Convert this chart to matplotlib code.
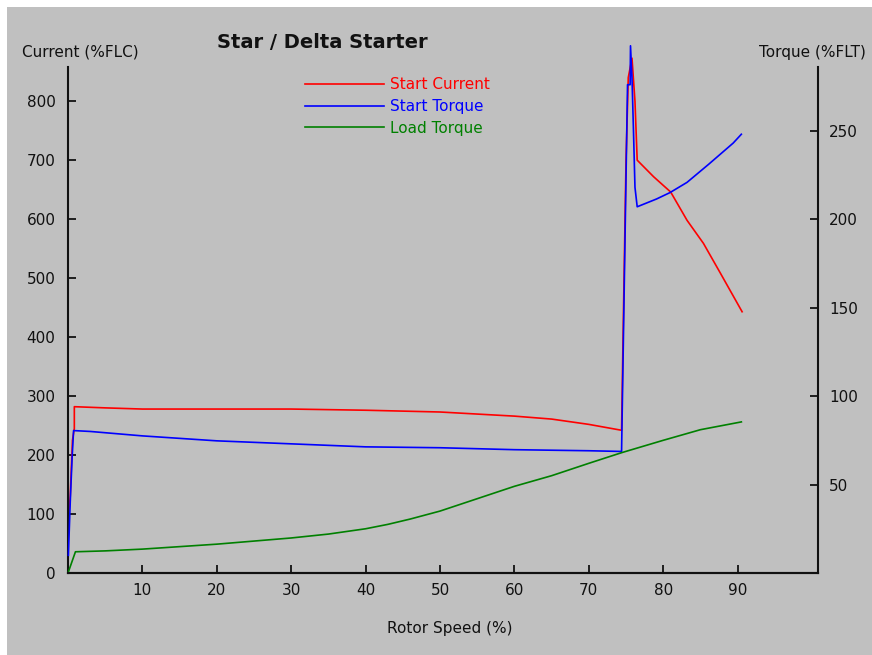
import matplotlib
matplotlib.use("Agg")
import matplotlib.pyplot as plt
from matplotlib.patches import Rectangle

# rotor speed (%) and curves
speed_current = [0.0, 0.3, 0.6, 0.85, 0.85, 5, 10, 20, 30, 40, 50, 60, 65, 70, 74.4,
                 74.6, 75.0, 75.3, 75.8, 76.2, 76.5, 78.7, 81.0, 83.2, 85.4, 87.7, 90.6]
start_current = [85, 130, 225, 245, 282, 280, 278, 278, 278, 276, 273, 266, 261, 252, 242,
                 400, 700, 840, 873, 800, 700, 672, 646, 598, 559, 508, 443]

speed_torque = [0.05, 0.3, 0.55, 0.75, 3, 10, 20, 30, 40, 50, 60, 70, 74.4,
                75.2, 75.55, 75.6, 75.8, 76.0, 76.2, 76.5, 79.1, 80.9, 83.2, 86.1, 89.4, 90.5]
start_torque = [10, 40, 65, 80.5, 80, 77.5, 74.7, 73, 71.3, 70.8, 69.7, 69.1, 68.7,
                276, 276, 298, 280, 250, 218, 207, 211.4, 215, 220.8, 231, 243, 248]

speed_load = [0, 0.5, 1.0, 5, 10, 20, 30, 35, 40, 43, 46, 50, 55, 60, 65, 70, 74.4,
              80, 85, 90.5]
load_torque = [0, 6, 12, 12.5, 13.5, 16.3, 19.8, 22, 25, 27.5, 30.5, 35, 42, 49, 55,
               62, 68, 75, 81, 85.4]

x_ticks = [10, 20, 30, 40, 50, 60, 70, 80, 90]
current_ticks = [0, 100, 200, 300, 400, 500, 600, 700, 800]
torque_ticks = [50, 100, 150, 200, 250]

W, H = 872, 655
fig = plt.figure(figsize=(W / 100, H / 100), dpi=100, facecolor="white")
fig.patches.append(Rectangle((7 / W, 0), 1, 1 - 7 / H, transform=fig.transFigure,
                             facecolor="#c0c0c0", edgecolor="none", zorder=-10))

ax = fig.add_axes([68 / W, 1 - 573 / H, (818 - 68) / W, (573 - 67) / H])
ax.set_facecolor("none")
ax2 = ax.twinx()
ax2.set_facecolor("none")

l1, = ax.plot(speed_current, start_current, color="#ff0000", lw=1.2, label="Start Current")
l2, = ax2.plot(speed_torque, start_torque, color="#0000ff", lw=1.2, label="Start Torque")
l3, = ax2.plot(speed_load, load_torque, color="#008000", lw=1.2, label="Load Torque")
for l in (l1, l2, l3):
    l.set_clip_on(False)

ax.set_xlim(0, 100.8)
ax.set_ylim(0, 858)
ax2.set_ylim(0, 286)

ax.set_xticks(x_ticks)
ax.set_yticks(current_ticks)
ax2.set_yticks(torque_ticks)

fs = 11
ax.tick_params(axis="both", direction="in", length=6, width=1.3, labelsize=fs,
               colors="#111111")
ax.tick_params(axis="y", pad=9)
ax.tick_params(axis="x", pad=7)
ax2.tick_params(axis="y", direction="in", length=6, width=1.3, labelsize=fs,
                colors="#111111", pad=8)

for a in (ax, ax2):
    a.spines["top"].set_visible(False)
    for s in a.spines.values():
        s.set_linewidth(1.5)
        s.set_color("#111111")
ax.spines["right"].set_visible(False)
ax2.spines["left"].set_visible(False)

fig.text(22 / W, 1 - 52 / H, "Current (%FLC)", fontsize=fs, ha="left", va="center",
         color="#111111")
fig.text(866 / W, 1 - 52 / H, "Torque (%FLT)", fontsize=fs, ha="right", va="center",
         color="#111111")
fig.text(322 / W, 1 - 42 / H, "Star / Delta Starter", fontsize=14, fontweight="bold",
         ha="center", va="center", color="#111111")
fig.text(450 / W, 1 - 628 / H, "Rotor Speed (%)", fontsize=fs, ha="center", va="center",
         color="#111111")

leg = ax2.legend(handles=[l1, l2, l3], loc="upper left",
                 bbox_to_anchor=(305 / W, 1 - 77 / H), bbox_transform=fig.transFigure,
                 frameon=False, fontsize=fs, handlelength=5.2, handletextpad=0.35,
                 labelspacing=0.45, borderpad=0, borderaxespad=0, labelcolor="linecolor")

fig.savefig("out.png", dpi=100, facecolor=fig.get_facecolor())
